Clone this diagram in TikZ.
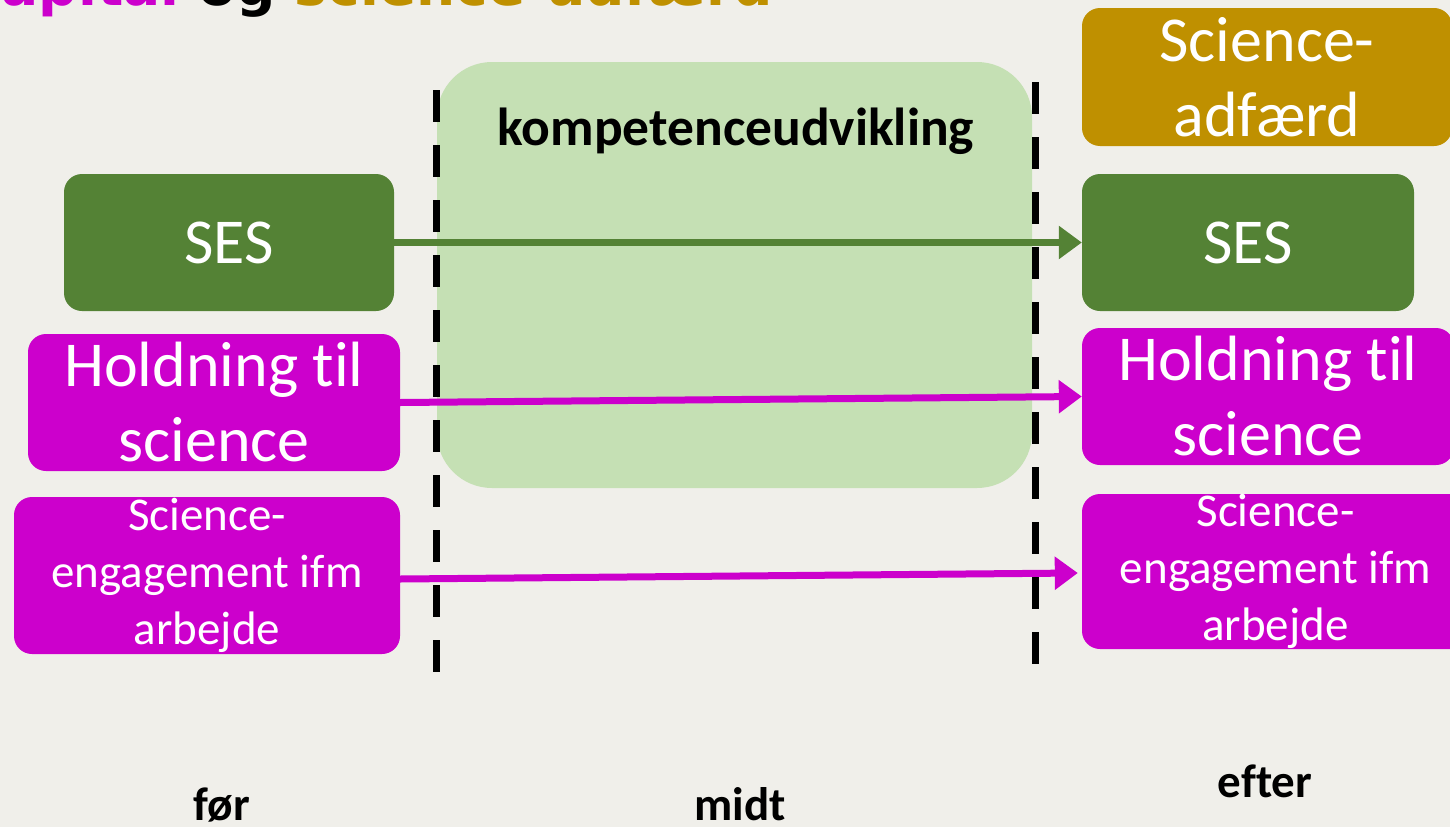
\documentclass[tikz,border=0pt]{standalone}
\usepackage{fontspec}
\setmainfont[Ligatures=NoCommon]{Carlito}
\newfontfamily\titlefont{DejaVu Sans}
\usetikzlibrary{arrows.meta}
\definecolor{bg}{HTML}{F0EFEA}
\definecolor{mag}{HTML}{CC00CC}
\definecolor{sesgreen}{HTML}{548235}
\definecolor{gold}{HTML}{BF9000}
\definecolor{lgreen}{HTML}{C5E0B4}
\tikzset{
  box/.style={rectangle, rounded corners=18pt, inner sep=0pt, align=center, text=white, draw=none},
  bigtxt/.style={font=\fontsize{64pt}{75pt}\selectfont},
  smalltxt/.style={font=\fontsize{47pt}{57pt}\selectfont},
  lbl/.style={font=\bfseries\fontsize{47pt}{56pt}\selectfont, anchor=base, inner sep=0pt},
  divider/.style={line width=7pt, dash pattern=on 32pt off 23pt},
  arr/.style={line width=7pt, -{Triangle[length=23pt,width=32pt]}},
}
\begin{document}
\begin{tikzpicture}[x=1pt,y=-1pt]
\useasboundingbox[fill=bg] (0,0) rectangle (1450,827);
% title (cut at top)
\node[anchor=base east, inner sep=0pt, font=\titlefont\bfseries\fontsize{55pt}{62pt}\selectfont] (title) at (773,5.5)
  {\textcolor{mag}{apital} og \textcolor{gold}{science-adfærd}};
% middle area
\node[rectangle, fill=lgreen, rounded corners=55pt, minimum width=595pt, minimum height=426pt, inner sep=0pt] (mid) at (734.5,275) {};
\node[anchor=base, inner sep=0pt, font=\bfseries\fontsize{53.5pt}{60pt}\selectfont] (kv) at (736,145) {kompetenceudvikling};
% dividers
\coordinate (d1a) at (436,90);
\coordinate (d1b) at (436,680);
\coordinate (d2a) at (1035,82);
\coordinate (d2b) at (1035,674);
\draw[divider] (d1a) -- (d1b);
\draw[divider] (d2a) -- (d2b);
% left boxes
\node[box, bigtxt, fill=sesgreen, minimum width=330pt, minimum height=137pt] (sesL) at (229,242.5) {SES};
\node[box, bigtxt, fill=mag, minimum width=372pt, minimum height=137pt] (holdL) at (214,402.5) {Holdning til\\science};
\node[box, smalltxt, fill=mag, minimum width=386pt, minimum height=157pt] (engL) at (207,575.5) {Science-\\engagement ifm\\arbejde};
% right boxes
\node[box, bigtxt, fill=gold, minimum width=370pt, minimum height=138pt] (adf) at (1267,77) {Science-\\adfærd};
\node[box, bigtxt, fill=sesgreen, minimum width=332pt, minimum height=137pt] (sesR) at (1248,242.5) {SES};
\node[box, bigtxt, fill=mag, minimum width=372pt, minimum height=137pt] (holdR) at (1268,396.5) {Holdning til\\science};
\node[box, smalltxt, fill=mag, minimum width=387pt, minimum height=155pt] (engR) at (1275.5,571.5) {Science-\\engagement ifm\\arbejde};
% arrows
\draw[arr, sesgreen] (sesL.east) -- (sesR.west);
\draw[arr, mag] (holdL.east) -- (holdR.west);
\draw[arr, mag] ([yshift=-3.5pt]engL.east) -- ([xshift=-4pt,yshift=-1.5pt]engR.west);
% bottom labels
\node[lbl] (foer) at (222,820) {før};
\node[lbl] (midt) at (740,820) {midt};
\node[lbl] (efter) at (1265,797) {efter};
\end{tikzpicture}
\end{document}
